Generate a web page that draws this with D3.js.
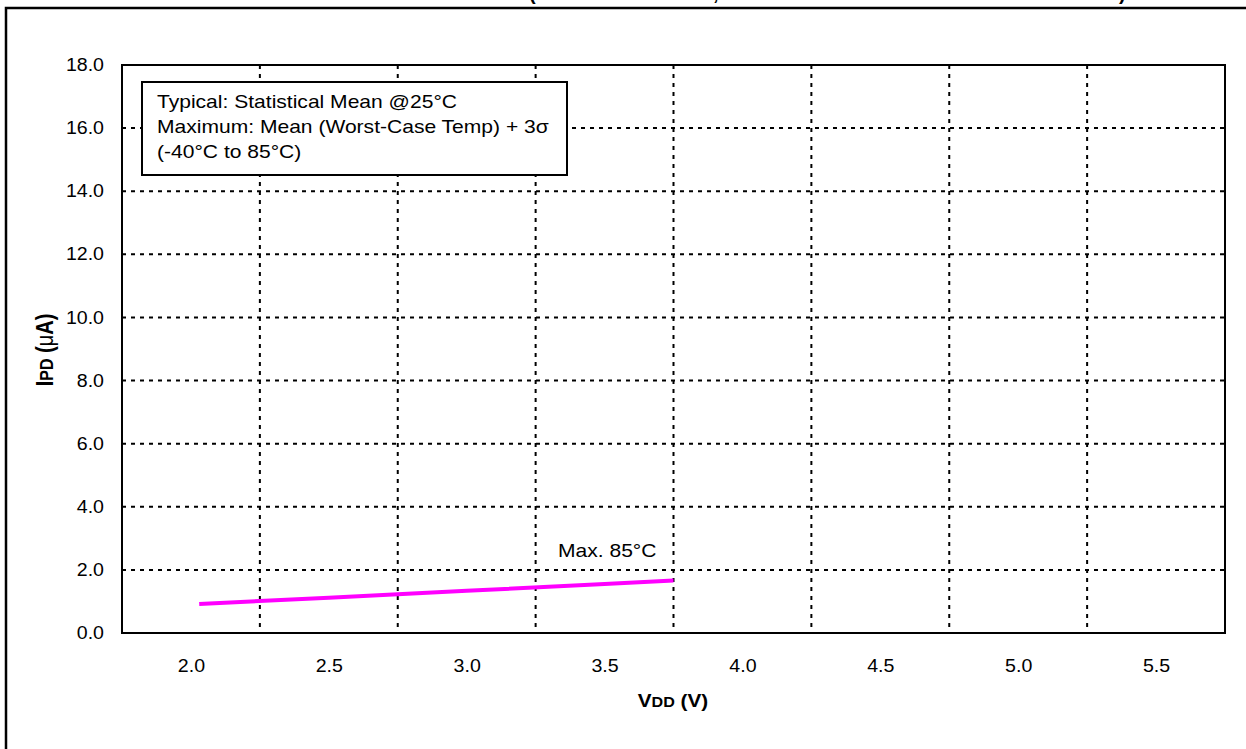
<!DOCTYPE html>
<html><head><meta charset="utf-8">
<script src="https://cdn.jsdelivr.net/npm/d3@7"></script>
<style>
html,body{margin:0;padding:0;background:#fff;}
svg{display:block;font-family:"Liberation Sans",Arial,sans-serif;}
</style></head>
<body><svg id="c" width="1246" height="749"></svg>
<script>
// Data
const vdd = [2.03, 2.5, 3.0, 3.5, 3.75];
const ipdMax85 = [0.92, 1.12, 1.34, 1.55, 1.66];
const yTicks = [0,2,4,6,8,10,12,14,16,18];
const xLabels = [2.0,2.5,3.0,3.5,4.0,4.5,5.0,5.5];
const xGrid = [2.25,2.75,3.25,3.75,4.25,4.75,5.25];
const yGrid = [2,4,6,8,10,12,14,16];
const legendLines = ["Typical: Statistical Mean @25°C","Maximum: Mean (Worst-Case Temp) + 3σ","(-40°C to 85°C)"];
const seriesLabel = "Max. 85°C";

const svg = d3.select("#c");
const L=122,R=1225,T=65,B=633;
const x = d3.scaleLinear().domain([1.75,5.75]).range([L,R]);
const y = d3.scaleLinear().domain([0,18]).range([B,T]);

function stretch(sel, s){
  sel.each(function(){
    const t=d3.select(this); const x0=+t.attr("x")||0;
    t.attr("transform",`translate(${x0*(1-s)},0) scale(${s},1)`);
  });
}

// outer frame (partially visible)
svg.append("path").attr("d","M6,760 L6,8 L1260,8").attr("fill","none").attr("stroke","#000").attr("stroke-width",2.5);
// cut-off title glyphs
const tg = svg.append("g").attr("font-weight","bold").attr("font-size",20);
[["(",529],[",",713],[")",1119]].forEach(([t,px])=>tg.append("text").attr("x",px).attr("y",0).text(t));

// grid
const g = svg.append("g");
g.selectAll(".hg").data(yGrid).join("line")
  .attr("x1",L).attr("x2",R).attr("y1",d=>y(d)).attr("y2",d=>y(d))
  .attr("stroke","#000").attr("stroke-width",2).attr("stroke-dasharray","4,5");
g.selectAll(".vg").data(xGrid).join("line")
  .attr("x1",d=>x(d)).attr("x2",d=>x(d)).attr("y1",T).attr("y2",B)
  .attr("stroke","#000").attr("stroke-width",2).attr("stroke-dasharray","4,5");

// axes labels
const ya = svg.append("g").attr("transform",`translate(${L},0)`)
  .call(d3.axisLeft(y).tickValues(yTicks).tickSize(0).tickPadding(18).tickFormat(d3.format(".1f")));
ya.select(".domain").remove();
ya.selectAll("text").attr("font-size",17.5).attr("font-family","Liberation Sans, Arial").attr("fill","#000").call(stretch,1.12);
const xa = svg.append("g").attr("transform",`translate(0,${B})`)
  .call(d3.axisBottom(x).tickValues(xLabels).tickSize(0).tickPadding(27).tickFormat(d3.format(".1f")));
xa.select(".domain").remove();
xa.selectAll("text").attr("font-size",17.5).attr("font-family","Liberation Sans, Arial").attr("fill","#000").call(stretch,1.12);

// plot border
svg.append("rect").attr("x",L).attr("y",T).attr("width",R-L).attr("height",B-T)
  .attr("fill","none").attr("stroke","#000").attr("stroke-width",2);

// series
svg.append("path").datum(vdd.map((v,i)=>[v,ipdMax85[i]]))
  .attr("d",d3.line().x(d=>x(d[0])).y(d=>y(d[1])))
  .attr("fill","none").attr("stroke","#ff00ff").attr("stroke-width",4);
svg.append("text").attr("x",558).attr("y",557).attr("font-size",18).text(seriesLabel).call(stretch,1.17);

// legend
svg.append("rect").attr("x",142).attr("y",82).attr("width",425).attr("height",93)
  .attr("fill","#fff").attr("stroke","#000").attr("stroke-width",2);
legendLines.forEach((t,i)=>svg.append("text").attr("x",157).attr("y",108+i*25).attr("font-size",18).text(t).call(stretch,1.17));

// axis titles
const xt = svg.append("text").attr("x",673).attr("y",707).attr("text-anchor","middle").attr("font-weight","bold").attr("font-size",18);
xt.append("tspan").text("V");
xt.append("tspan").attr("font-size",14).text("DD");
xt.append("tspan").text(" (V)");
xt.call(stretch,1.15);
const yt = svg.append("text").attr("transform","translate(53,350) scale(1.15,1) rotate(-90)").attr("text-anchor","middle").attr("font-weight","bold").attr("font-size",20);
yt.append("tspan").text("I");
yt.append("tspan").attr("font-size",16).text("PD");
yt.append("tspan").text(" (");
yt.append("tspan").attr("font-weight","normal").text("μ");
yt.append("tspan").text("A)");
</script></body></html>
